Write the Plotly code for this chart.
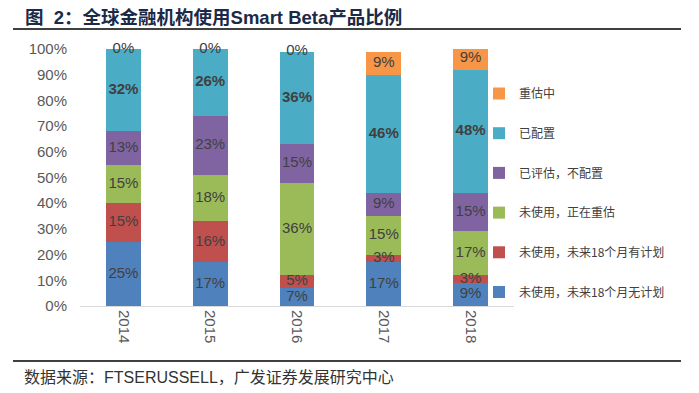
import plotly.graph_objects as go

years = ["2014", "2015", "2016", "2017", "2018"]
series_names = [
    "未使用，未来18个月无计划",
    "未使用，未来18个月有计划",
    "未使用，正在重估",
    "已评估，不配置",
    "已配置",
    "重估中",
]
no_plan = [25, 17, 7, 17, 9]
plan_18m = [15, 16, 5, 3, 3]
reassessing_unused = [15, 18, 36, 15, 17]
evaluated_no = [13, 23, 15, 9, 15]
allocated = [32, 26, 36, 46, 48]
reassessing = [0, 0, 0, 9, 9]
series_values = [no_plan, plan_18m, reassessing_unused, evaluated_no, allocated, reassessing]
colors = ["#4F81BD", "#C0504D", "#9BBB59", "#8064A2", "#4BACC6", "#F79646"]
bold_series = "已配置"

OFF = 8  # page body margin in the browser
W, H = 699 - OFF, 393 - OFF
L, R, T, B = 80 - OFF, 514 - OFF, 49 - OFF, 306 - OFF


def px_x(p):
    return (p - OFF - L) / (R - L)


def px_y(p):
    return (B - (p - OFF)) / (B - T)


fig = go.Figure()
n = len(series_names)
for i, (name, vals, col) in enumerate(zip(series_names, series_values, colors)):
    fig.add_trace(go.Bar(
        x=years, y=[v / 100 for v in vals], name=name,
        marker=dict(color=col, line=dict(width=0)),
        legendgroup=name, legendrank=100 + (n - i), hoverinfo="skip",
    ))

# data labels at segment centres
base = [0] * len(years)
for name, vals in zip(series_names, series_values):
    mids = [(b + v / 2) / 100 for b, v in zip(base, vals)]
    fig.add_trace(go.Scatter(
        x=years, y=mids, mode="text",
        text=[f"{v}%" for v in vals],
        textposition="middle center",
        textfont=dict(size=15, color="#404040",
                      family="Liberation Sans, Arial, sans-serif",
                      weight="bold" if name == bold_series else "normal"),
        showlegend=False, hoverinfo="skip", cliponaxis=False,
    ))
    base = [b + v for b, v in zip(base, vals)]

fig.update_layout(
    width=W, height=H,
    margin=dict(l=L, r=W - R, t=T, b=H - B, autoexpand=False),
    barmode="stack", bargap=0.6,
    plot_bgcolor="white", paper_bgcolor="white",
    font=dict(family="Liberation Sans, Noto Sans CJK SC, sans-serif", color="#595959"),
    showlegend=True,
    legend=dict(
        x=px_x(479), y=px_y(79), xanchor="left", yanchor="top",
        traceorder="grouped", tracegroupgap=20.7,
        font=dict(size=12, color="#404040", family="Noto Sans CJK SC, sans-serif"),
        bgcolor="rgba(0,0,0,0)",
    ),
    xaxis=dict(
        type="category", showline=True, linecolor="#D9D9D9", linewidth=1,
        ticks="", tickangle=90, tickfont=dict(size=15, color="#595959"),
        showgrid=False, zeroline=False,
    ),
    yaxis=dict(
        range=[0, 1], tickformat=".0%", dtick=0.1, tick0=0,
        showgrid=False, zeroline=False, showline=False, ticks="",
        ticklabelstandoff=12,
        tickfont=dict(size=15, color="#595959"),
    ),
)

# header and footer rules
for yp in (29, 361):
    fig.add_shape(type="line", xref="paper", yref="paper",
                  x0=px_x(13), x1=px_x(681), y0=px_y(yp), y1=px_y(yp),
                  line=dict(color="black", width=1.3))

fig.add_annotation(
    xref="paper", yref="paper", x=px_x(23), y=px_y(17),
    xanchor="left", yanchor="middle", showarrow=False,
    text="图  2：全球金融机构使用Smart Beta产品比例",
    font=dict(size=18.5, color="#1B2A47", family="Liberation Sans, Noto Sans CJK SC, sans-serif",
              weight="bold"),
)
fig.add_annotation(
    xref="paper", yref="paper", x=px_x(22), y=px_y(377),
    xanchor="left", yanchor="middle", showarrow=False,
    text="数据来源：FTSERUSSELL，广发证券发展研究中心",
    font=dict(size=16, color="#333333", family="Liberation Sans, Noto Sans CJK SC, sans-serif"),
)

fig.write_html("out.html")
